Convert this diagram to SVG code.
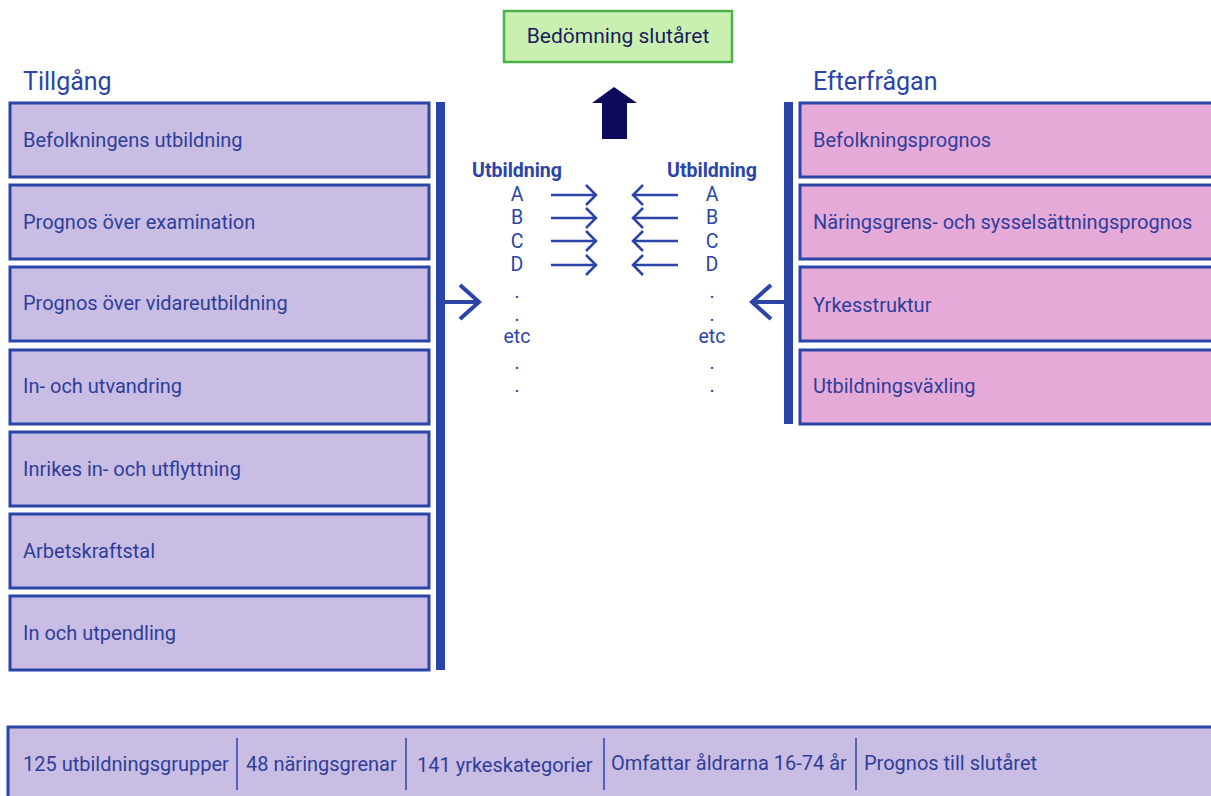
<svg xmlns="http://www.w3.org/2000/svg" width="1211" height="796" viewBox="0 0 1211 796">
<defs>
<style>
text{font-family:Roboto,"Liberation Sans",sans-serif;}
.sup{fill:#C9BDE3;stroke:#2B44A8;stroke-width:3;}
.dem{fill:#E6AAD9;stroke:#2B44A8;stroke-width:3;}
.lbl{font-size:20px;fill:#2E3E9A;}
.ttl{font-size:25px;fill:#2B44A8;}
.hdr{font-size:19.5px;font-weight:bold;fill:#2B44A8;text-anchor:middle;}
.let{font-size:19.5px;fill:#2B44A8;text-anchor:middle;}
.bar{fill:#2B44A8;}
.ar{fill:none;stroke:#2B44A8;stroke-width:2.5;}
.big{fill:none;stroke:#2B44A8;stroke-width:4;}
.div{stroke:#2B44A8;stroke-width:1.5;}
</style>
</defs>
<rect width="1211" height="796" fill="#ffffff"/>

<g id="result">
<rect x="504" y="11" width="228" height="51" fill="#C9F0B0" stroke="#4CB04C" stroke-width="2.5"/>
<text x="618" y="43" text-anchor="middle" font-size="21" fill="#1B1B5E">Bedömning slutåret</text>
</g>

<text class="ttl" x="23" y="90">Tillgång</text>
<text class="ttl" x="813" y="90">Efterfrågan</text>

<g id="supply-1"><rect class="sup" x="10" y="103" width="419" height="74"/><text class="lbl" x="23" y="147">Befolkningens utbildning</text></g>
<g id="supply-2"><rect class="sup" x="10" y="185" width="419" height="74"/><text class="lbl" x="23" y="229">Prognos över examination</text></g>
<g id="supply-3"><rect class="sup" x="10" y="267" width="419" height="74"/><text class="lbl" x="23" y="310">Prognos över vidareutbildning</text></g>
<g id="supply-4"><rect class="sup" x="10" y="350" width="419" height="74"/><text class="lbl" x="23" y="393">In- och utvandring</text></g>
<g id="supply-5"><rect class="sup" x="10" y="432" width="419" height="74"/><text class="lbl" x="23" y="476">Inrikes in- och utflyttning</text></g>
<g id="supply-6"><rect class="sup" x="10" y="514" width="419" height="74"/><text class="lbl" x="23" y="558">Arbetskraftstal</text></g>
<g id="supply-7"><rect class="sup" x="10" y="596" width="419" height="74"/><text class="lbl" x="23" y="640">In och utpendling</text></g>

<g id="demand-1"><rect class="dem" x="800" y="103" width="420" height="74"/><text class="lbl" x="813" y="147">Befolkningsprognos</text></g>
<g id="demand-2"><rect class="dem" x="800" y="185" width="420" height="74"/><text class="lbl" x="813" y="229">Näringsgrens- och sysselsättningsprognos</text></g>
<g id="demand-3"><rect class="dem" x="800" y="267" width="420" height="74"/><text class="lbl" x="813" y="312">Yrkesstruktur</text></g>
<g id="demand-4"><rect class="dem" x="800" y="350" width="420" height="74"/><text class="lbl" x="813" y="393">Utbildningsväxling</text></g>

<g id="connectors">
<rect class="bar" x="436" y="102" width="9" height="568"/>
<rect class="bar" x="784" y="102" width="9" height="322"/>
<path class="big" d="M445 302 H478 M460 285 L479 302 L460 319"/>
<path class="big" d="M784 302 H752 M771 285 L752 302 L771 319"/>
<path d="M602 139 V103 H592 L614 87 L637 103 H627 V139 Z" fill="#0D0A5E"/>
<path class="ar" d="M551 195 H596 M586 185 L596 195 L586 205"/>
<path class="ar" d="M551 218 H596 M586 208 L596 218 L586 228"/>
<path class="ar" d="M551 241 H596 M586 231 L596 241 L586 251"/>
<path class="ar" d="M551 265 H596 M586 255 L596 265 L586 275"/>
<path class="ar" d="M678 195 H633 M643 185 L633 195 L643 205"/>
<path class="ar" d="M678 218 H633 M643 208 L633 218 L643 228"/>
<path class="ar" d="M678 241 H633 M643 231 L633 241 L643 251"/>
<path class="ar" d="M678 265 H633 M643 255 L633 265 L643 275"/>
</g>

<g id="edu-left">
<text class="hdr" x="517" y="177">Utbildning</text>
<text class="let" x="517" y="201">A</text>
<text class="let" x="517" y="224">B</text>
<text class="let" x="517" y="248">C</text>
<text class="let" x="517" y="271">D</text>
<text class="let" x="517" y="298">.</text>
<text class="let" x="517" y="321">.</text>
<text class="let" x="517" y="343">etc</text>
<text class="let" x="517" y="369">.</text>
<text class="let" x="517" y="392">.</text>
</g>
<g id="edu-right">
<text class="hdr" x="712" y="177">Utbildning</text>
<text class="let" x="712" y="201">A</text>
<text class="let" x="712" y="224">B</text>
<text class="let" x="712" y="248">C</text>
<text class="let" x="712" y="271">D</text>
<text class="let" x="712" y="298">.</text>
<text class="let" x="712" y="321">.</text>
<text class="let" x="712" y="343">etc</text>
<text class="let" x="712" y="369">.</text>
<text class="let" x="712" y="392">.</text>
</g>

<g id="footer">
<rect class="sup" x="8" y="727" width="1215" height="80"/>
<line class="div" x1="237" y1="738" x2="237" y2="790"/>
<line class="div" x1="406" y1="738" x2="406" y2="790"/>
<line class="div" x1="604" y1="738" x2="604" y2="790"/>
<line class="div" x1="856" y1="738" x2="856" y2="790"/>
<text class="lbl" x="23" y="771">125 utbildningsgrupper</text>
<text class="lbl" x="246" y="771">48 näringsgrenar</text>
<text class="lbl" x="417" y="772">141 yrkeskategorier</text>
<text class="lbl" x="611" y="770">Omfattar åldrarna 16-74 år</text>
<text class="lbl" x="864" y="770">Prognos till slutåret</text>
</g>
</svg>
